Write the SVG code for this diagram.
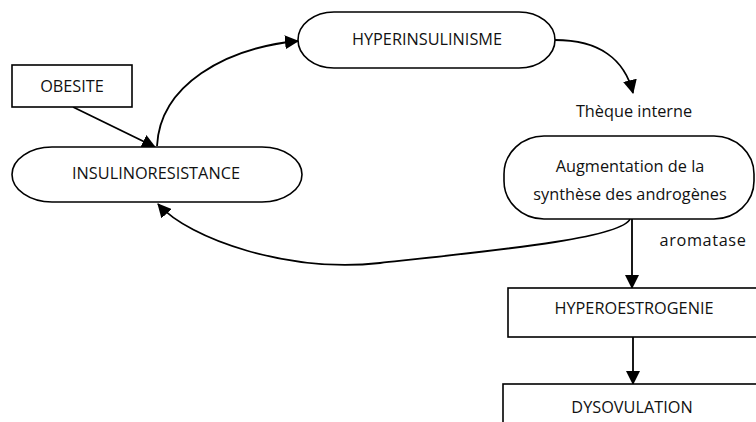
<svg xmlns="http://www.w3.org/2000/svg" width="756" height="422" viewBox="0 0 756 422">
<style>
.n{fill:#fff;stroke:#000;stroke-width:1.6}
.t{font-family:"Open Sans","Liberation Sans",sans-serif;font-size:16.3px;fill:#111;text-anchor:middle;dominant-baseline:central}
.c{fill:none;stroke:#000;stroke-width:1.8}
</style>
<defs>
<marker id="ah" markerUnits="userSpaceOnUse" markerWidth="14" markerHeight="14" viewBox="0 0 14 14" refX="13" refY="7" orient="auto">
<path d="M0,0 L14,7 L0,14 z" fill="#000"/>
</marker>
</defs>
<rect width="756" height="422" fill="#fff"/>
<g id="connectors">
<path class="c" d="M73,107 L155,147" marker-end="url(#ah)"/>
<path class="c" d="M157,146 C160,85 225,48 298,41" marker-end="url(#ah)"/>
<path class="c" d="M555,40 C600,40 625,60 633,93" marker-end="url(#ah)"/>
<path class="c" d="M632,219 L632,288" marker-end="url(#ah)"/>
<path class="c" d="M630,219 C622,238 500,250 380,263 C290,273 190,240 158,204" marker-end="url(#ah)"/>
<path class="c" d="M633,337 L633,384" marker-end="url(#ah)"/>
</g>
<g id="obesite"><rect class="n" x="12" y="65" width="120" height="42"/><text class="t" x="72" y="86">OBESITE</text></g>
<g id="insulinoresistance"><rect class="n" x="12" y="147" width="290" height="55" rx="40" ry="27.5"/><text class="t" x="156" y="173">INSULINORESISTANCE</text></g>
<g id="hyperinsulinisme"><rect class="n" x="298" y="12" width="257" height="56" rx="36" ry="28"/><text class="t" x="427" y="39">HYPERINSULINISME</text></g>
<g id="theque"><text class="t" x="634" y="111">Thèque interne</text></g>
<g id="augmentation"><rect class="n" x="504" y="136" width="250" height="83" rx="40" ry="38"/><text class="t" x="630" y="166">Augmentation de la</text><text class="t" x="630" y="194">synthèse des androgènes</text></g>
<g id="aromatase"><text class="t" x="703" y="240" letter-spacing="0.6">aromatase</text></g>
<g id="hyperoestrogenie"><rect class="n" x="508" y="288" width="260" height="49"/><text class="t" x="634" y="308">HYPEROESTROGENIE</text></g>
<g id="dysovulation"><rect class="n" x="503" y="384" width="270" height="60"/><text class="t" x="632" y="407">DYSOVULATION</text></g>
</svg>
